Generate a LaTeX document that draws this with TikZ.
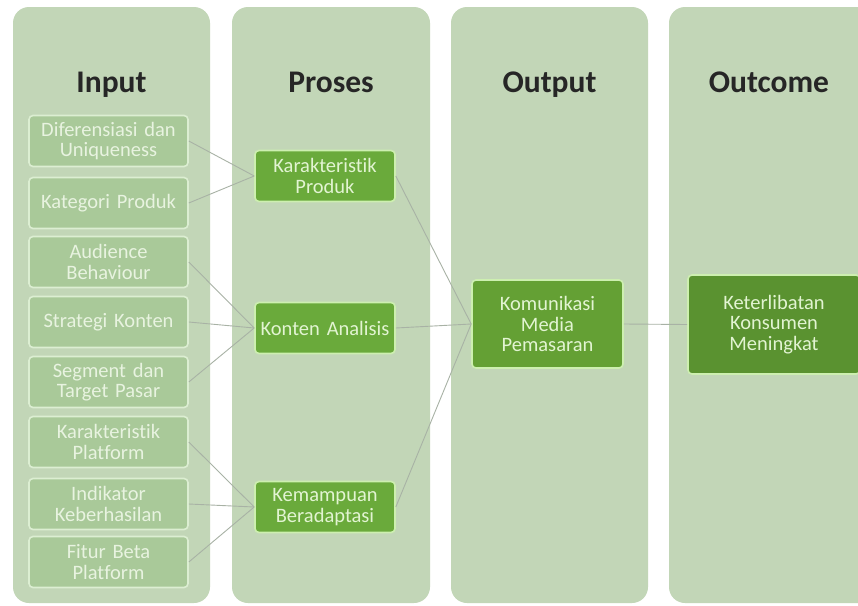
\documentclass[tikz,border=0pt]{standalone}
\usepackage{fontspec}
\setmainfont{Carlito}[Ligatures={NoCommon}, WordSpace={0.75,0.3,0.3}]
\definecolor{panelc}{HTML}{C2D6B7}
\definecolor{inbox}{HTML}{A9C999}
\definecolor{inedge}{HTML}{DCEED2}
\definecolor{intext}{HTML}{E8F3E0}
\definecolor{procc}{HTML}{6AAA3B}
\definecolor{outc}{HTML}{64A034}
\definecolor{outcomec}{HTML}{5A9230}
\definecolor{dedge}{HTML}{CDEFB0}
\definecolor{dtext}{HTML}{E2F4D2}
\definecolor{linec}{HTML}{A8B2A5}
\newcommand{\boxfont}{\fontsize{20.5}{20.5}\selectfont}
\tikzset{
  panel/.style={fill=panelc, draw=none, rounded corners=16pt},
  title/.style={font=\fontsize{31.5}{34}\selectfont\bfseries, text=black!85, anchor=base, inner sep=0pt},
  inputbox/.style={draw=inedge, line width=1.6pt, fill=inbox, rounded corners=4pt,
    minimum width=159pt, minimum height=51pt, text width=157pt, align=center,
    inner sep=0pt, text=intext, font=\boxfont},
  procbox/.style={draw=dedge, line width=1.6pt, fill=procc, rounded corners=4pt,
    minimum width=140pt, minimum height=51pt, text width=139pt, align=center,
    inner sep=0pt, text=dtext, font=\boxfont},
  outbox/.style={procbox, fill=outc, minimum width=151pt, minimum height=88pt, text width=148pt},
  outcomebox/.style={procbox, fill=outcomec, minimum width=172pt, minimum height=99pt, text width=168pt},
  conn/.style={draw=linec, line width=0.9pt}
}
\begin{document}
\begin{tikzpicture}[x=1pt,y=-1pt]
\useasboundingbox (0,0) rectangle (858,605);
\clip (0,0) rectangle (858,605);
\fill[white] (0,0) rectangle (858,605);
% panels
\fill[panel] (13,7) rectangle (210,603);
\fill[panel] (232,7) rectangle (430,603);
\fill[panel] (451,7) rectangle (648,603);
\fill[panel] (669,7) rectangle (880,603);
% titles
\node[title] (tin) at (111.5,92) {Input};
\node[title] (tpr) at (331,92) {Proses};
\node[title] (tou) at (549.5,92) {Output};
\node[title] (toc) at (769,92) {Outcome};
% input boxes
\node[inputbox] (i1) at (108.5,141) {Diferensiasi dan\\Uniqueness};
\node[inputbox] (i2) at (108.5,203) {Kategori Produk};
\node[inputbox] (i3) at (108.5,262) {Audience\\Behaviour};
\node[inputbox] (i4) at (108.5,322) {Strategi Konten};
\node[inputbox] (i5) at (108.5,382) {Segment dan\\Target Pasar};
\node[inputbox] (i6) at (108.5,442) {Karakteristik\\Platform};
\node[inputbox] (i7) at (108.5,504) {Indikator\\Keberhasilan};
\node[inputbox] (i8) at (108.5,562) {Fitur Beta\\Platform};
% process boxes
\node[procbox] (p1) at (325,176) {Karakteristik\\Produk};
\node[procbox] (p2) at (325,328) {Konten Analisis};
\node[procbox] (p3) at (325,507) {Kemampuan\\Beradaptasi};
% output / outcome
\node[outbox] (o1) at (547.5,324) {Komunikasi\\Media\\Pemasaran};
\node[outcomebox] (oc) at (774,324.5) {Keterlibatan\\Konsumen\\Meningkat};
% connectors
\path[conn] (i1.east) -- (p1.west);
\path[conn] (i2.east) -- (p1.west);
\path[conn] (i3.east) -- (p2.west);
\path[conn] (i4.east) -- (p2.west);
\path[conn] (i5.east) -- (p2.west);
\path[conn] (i6.east) -- (p3.west);
\path[conn] (i7.east) -- (p3.west);
\path[conn] (i8.east) -- (p3.west);
\path[conn] (p1.east) -- (o1.west);
\path[conn] (p2.east) -- (o1.west);
\path[conn] (p3.east) -- (o1.west);
\path[conn] (o1.east) -- (oc.west);
\end{tikzpicture}
\end{document}
